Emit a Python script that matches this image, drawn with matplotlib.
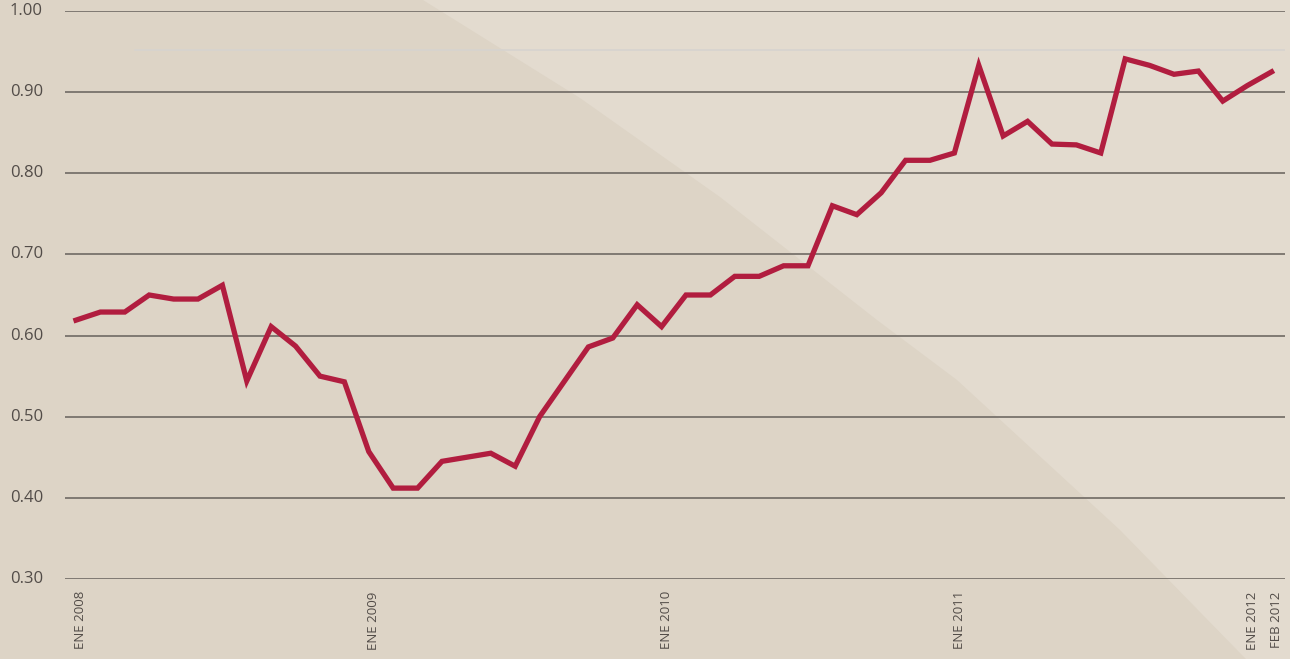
import numpy as np
import matplotlib
matplotlib.use('Agg')
import matplotlib.pyplot as plt
from matplotlib.patches import Polygon

plt.rcParams['font.family'] = ['Open Sans', 'DejaVu Sans']

# monthly values, ENE 2008 .. FEB 2012
values = [0.619, 0.629, 0.629, 0.650, 0.645, 0.645, 0.662, 0.544, 0.611, 0.587,
          0.550, 0.543, 0.457, 0.412, 0.412, 0.445, 0.450, 0.455, 0.439, 0.500,
          0.543, 0.586, 0.597, 0.638, 0.611, 0.650, 0.650, 0.673, 0.673, 0.686,
          0.686, 0.760, 0.749, 0.776, 0.816, 0.816, 0.825, 0.933, 0.846, 0.864,
          0.836, 0.835, 0.825, 0.941, 0.933, 0.922, 0.926, 0.889, 0.908, 0.925]
tick_pos = [0, 12, 24, 36, 48, 49]
tick_labels = ['ENE 2008', 'ENE 2009', 'ENE 2010', 'ENE 2011', 'ENE 2012', 'FEB 2012']
y_ticks = [0.30, 0.40, 0.50, 0.60, 0.70, 0.80, 0.90, 1.00]

bg = '#ddd4c6'
bg_light = '#e3dbcf'
red = '#b11d3f'
grid_c = '#78726c'
txt_c = '#524c48'

fig = plt.figure(figsize=(12.9, 6.59), dpi=100, facecolor=bg)
# background axes with lighter curved diagonal region (pixel coords)
bax = fig.add_axes([0, 0, 1, 1], zorder=-1)
bax.set_xlim(0, 1290); bax.set_ylim(659, 0)
bax.set_facecolor(bg)
edge = [(423, 0), (580, 98), (720, 197), (877, 320), (957, 380),
        (1120, 530), (1240, 653), (1246, 659)]
bax.add_patch(Polygon([(1290, 659), (1290, 0)] + edge, closed=True,
                      facecolor=bg_light, edgecolor='none'))
bax.axis('off')

ax = fig.add_axes([65/1290, 1-579/659, (1285-65)/1290, (579-11)/659], zorder=1)
ax.set_facecolor('none')
x = np.arange(len(values))

for yv in y_ticks:
    ax.axhline(yv, color=grid_c, lw=1.3, zorder=1)
ax.plot([2.4, 49.6], [0.952, 0.952], color='#d6d3cf', lw=1.2, zorder=1)

ax.plot(x, values, color=red, lw=3.8, solid_joinstyle='miter', zorder=3)

ax.set_xlim(-0.45, 49.55)
ax.set_ylim(0.30, 1.00)
for s in ax.spines.values():
    s.set_visible(False)
ax.set_yticks([])
ax.set_xticks([])

for yv in y_ticks:
    ax.text(-55/24.4 - 0.45, yv, '%.2f' % yv, ha='left', va='center',
            fontsize=12, color=txt_c, clip_on=False)
for p, lab in zip(tick_pos, tick_labels):
    ax.text(p + 0.2, 0.285, lab, rotation=90, ha='center', va='top',
            fontsize=9.5, color=txt_c, clip_on=False)

fig.savefig('out.png', dpi=100, facecolor=bg)
